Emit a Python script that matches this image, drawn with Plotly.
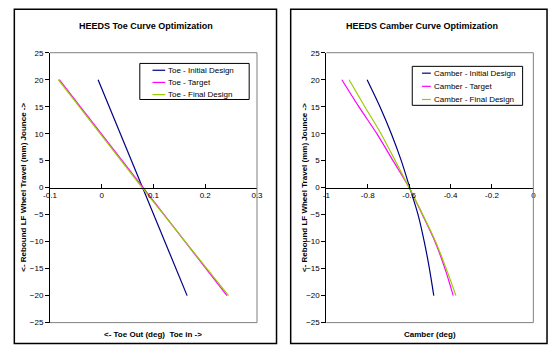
import plotly.graph_objects as go

# ---- data ----
toe_y = [20, 0, -20]
toe_initial = [-0.007, 0.079, 0.165]
toe_target = [-0.082, 0.080, 0.242]
toe_final = [-0.084, 0.078, 0.245]

camber_y = [20, 15, 10, 5, 0, -5, -10, -15, -20]
camber_initial = [-0.803, -0.741, -0.686, -0.638, -0.597, -0.557, -0.527, -0.502, -0.481]
camber_target = [-0.925, -0.843, -0.756, -0.678, -0.600, -0.536, -0.475, -0.427, -0.387]
camber_final = [-0.890, -0.814, -0.736, -0.667, -0.600, -0.534, -0.472, -0.421, -0.374]

toe_names = ["Toe - Initial Design", "Toe - Target", "Toe - Final Design"]
camber_names = ["Camber - Initial Design", "Camber - Target", "Camber - Final Design"]
colors = ["#000080", "#FF00FF", "#99CC00"]

y_ticks = [-25, -20, -15, -10, -5, 0, 5, 10, 15, 20, 25]
toe_ticks = [-0.1, 0, 0.1, 0.2, 0.3]
toe_ticktext = ["-0.1", "0", "0.1", "0.2", "0.3"]
camber_ticks = [-1, -0.8, -0.6, -0.4, -0.2, 0]
camber_ticktext = ["-1", "-0.8", "-0.6", "-0.4", "-0.2", "0"]

W, H = 554, 351
FONT = "Liberation Sans, Arial, sans-serif"

def px(x):
    return x / W

def py(y):
    return (H - y) / H

fig = go.Figure()
for xs, name, c in zip([toe_initial, toe_target, toe_final], toe_names, colors):
    fig.add_trace(go.Scatter(x=xs, y=toe_y, mode="lines", name=name,
                             line=dict(color=c, width=1.2), xaxis="x", yaxis="y",
                             showlegend=False))
for xs, name, c in zip([camber_initial, camber_target, camber_final], camber_names, colors):
    fig.add_trace(go.Scatter(x=xs, y=camber_y, mode="lines", name=name,
                             line=dict(color=c, width=1.2, shape="spline", smoothing=0.8),
                             xaxis="x2", yaxis="y2", showlegend=False))

ydom = [py(327), py(50)]
ymid = (ydom[0] + ydom[1]) / 2
xdom1 = [px(44), px(256)]
xdom2 = [px(327), px(539)]

tickfont = dict(family=FONT, size=8, color="#000000")

xcommon = dict(showgrid=False, zeroline=False, showline=True, linecolor="#000000",
               linewidth=1, ticks="inside", ticklen=4, tickcolor="#000000",
               tickfont=tickfont, anchor="free", position=ymid, fixedrange=True)
ycommon = dict(showgrid=False, zeroline=False, showline=True, linecolor="#000000",
               linewidth=1, ticks="outside", ticklen=4, tickcolor="#000000",
               tickfont=tickfont, range=[-25, 25], tickvals=y_ticks, domain=ydom,
               fixedrange=True)

fig.update_layout(
    width=W, height=H,
    margin=dict(l=0, r=0, t=0, b=0),
    paper_bgcolor="white", plot_bgcolor="white",
    font=dict(family=FONT, size=8, color="#000000"),
    xaxis=dict(**xcommon, domain=xdom1, range=[-0.1, 0.3], tickvals=toe_ticks,
               ticktext=toe_ticktext),
    yaxis=dict(**ycommon, anchor="x"),
    xaxis2=dict(**xcommon, domain=xdom2, range=[-1, 0], tickvals=camber_ticks,
                ticktext=camber_ticktext),
    yaxis2=dict(**ycommon, anchor="x2"),
    showlegend=False,
)

def line(x0, y0, x1, y1, color="#000000", width=1.0):
    fig.add_shape(type="line", xref="paper", yref="paper", x0=px(x0), x1=px(x1),
                  y0=py(y0), y1=py(y1), line=dict(color=color, width=width), layer="above")

def rect(x0, y0, x1, y1, color="#000000", width=1.0):
    fig.add_shape(type="rect", xref="paper", yref="paper", x0=px(x0), x1=px(x1),
                  y0=py(y0), y1=py(y1), line=dict(color=color, width=width), layer="above")

# outer chart borders
rect(7.5, 5.5, 276, 348.5, width=1.5)
rect(290.5, 5.5, 553, 348.5, width=1.5)
# plot area gray borders (top, right, bottom)
for x0, x1 in [(44, 256), (327, 539)]:
    line(x0, 50, x1, 50, color="#808080")
    line(x1, 50, x1, 327, color="#808080")
    line(x0, 327, x1, 327, color="#808080")

def ann(text, x, y, size=8, angle=0, xanchor="center"):
    fig.add_annotation(text=text, x=px(x), y=py(y), xref="paper", yref="paper",
                       showarrow=False, textangle=angle, xanchor=xanchor, yanchor="middle",
                       font=dict(family=FONT, size=size, color="#000000"))

ann("<b>HEEDS Toe Curve Optimization</b>", 142, 23, size=9)
ann("<b>HEEDS Camber Curve Optimization</b>", 425, 23, size=9)
ann("<b>&lt;- Toe Out (deg)&nbsp;&nbsp;Toe in -&gt;</b>", 150, 339)
ann("<b>Camber (deg)</b>", 433, 339)
ann("<b>&lt;- Rebound LF Wheel Travel (mm) Jounce -&gt;</b>", 17, 188, angle=-90)
ann("<b>&lt;- Rebound LF Wheel Travel (mm) Jounce -&gt;</b>", 304, 188, angle=-90)

# legends (box, short line samples, labels)
def legend(names, box, line_x, rows):
    rect(*box)
    for name, c, ry in zip(names, colors, rows):
        line(line_x[0], ry, line_x[1], ry, color=c, width=1.2)
        ann(name, line_x[1] + 1, ry, xanchor="left")

legend(toe_names, (136, 61, 248, 98), (149, 162), [68, 80.5, 93])
legend(camber_names, (415, 64, 528, 104), (425, 434), [71, 84.5, 98])

fig.write_html("out.html", config={"displayModeBar": False},
               post_script="document.body.style.margin='0';document.body.style.padding='0';")
